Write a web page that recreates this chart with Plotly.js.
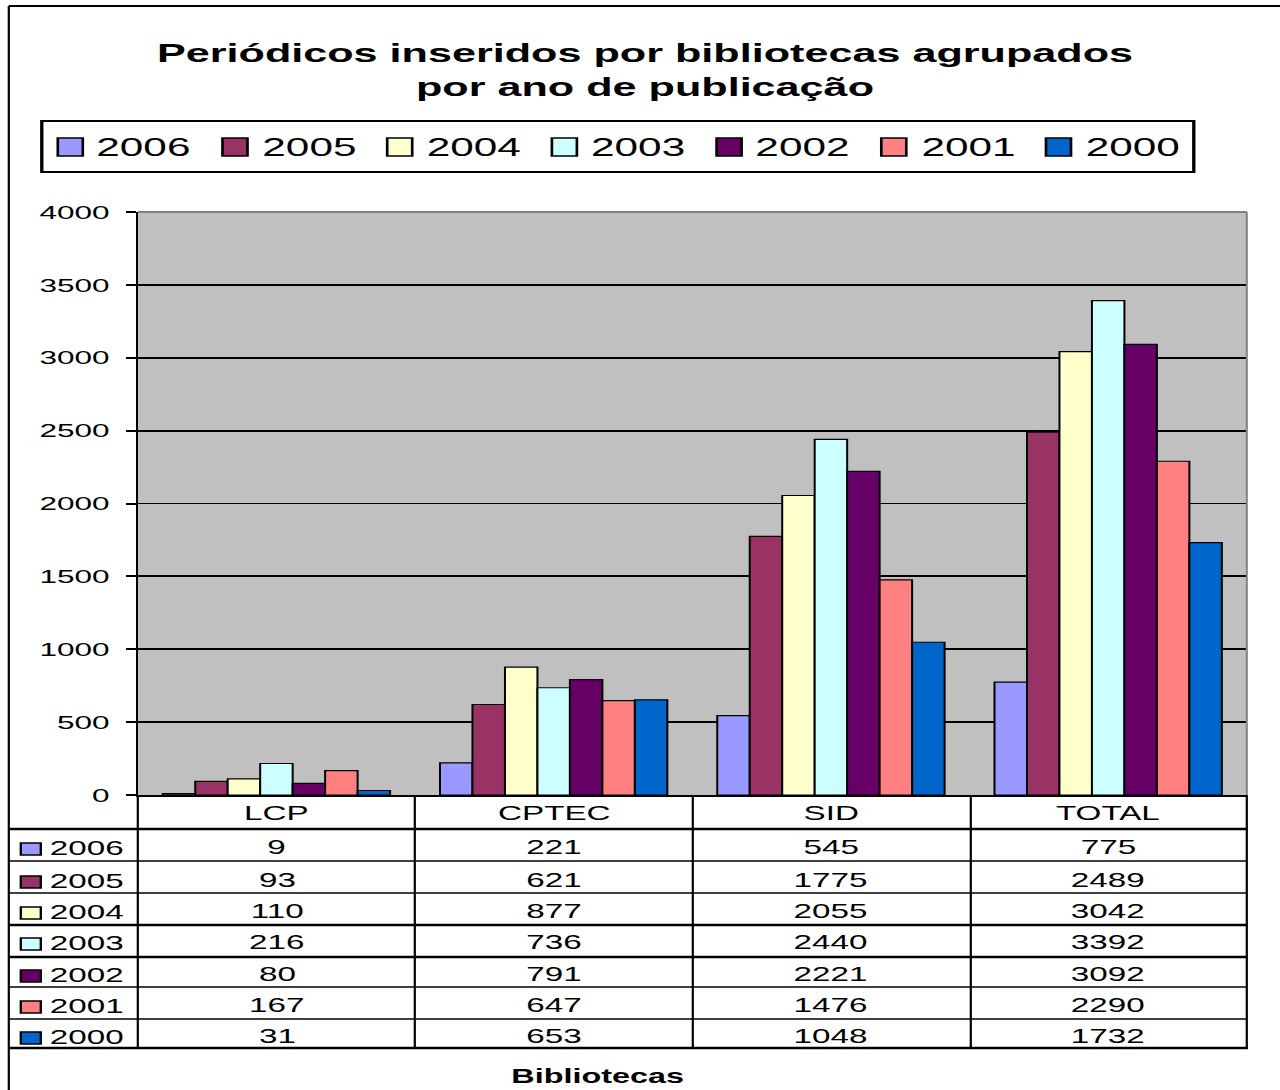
<!DOCTYPE html>
<html>
<head>
<meta charset="utf-8">
<script src="https://cdn.plot.ly/plotly-3.0.1.min.js"></script>
<style>
  html, body { margin: 0; padding: 0; background: #fff; overflow: hidden; }
  #chart { width: 771px; height: 1090px; transform-origin: 0 0; }
</style>
</head>
<body>
<div id="chart"></div>
<script>
// ---- data ----
const categories = ['LCP', 'CPTEC', 'SID', 'TOTAL'];
const seriesNames = ['2006', '2005', '2004', '2003', '2002', '2001', '2000'];
const v2006 = [9, 221, 545, 775];
const v2005 = [93, 621, 1775, 2489];
const v2004 = [110, 877, 2055, 3042];
const v2003 = [216, 736, 2440, 3392];
const v2002 = [80, 791, 2221, 3092];
const v2001 = [167, 647, 1476, 2290];
const v2000 = [31, 653, 1048, 1732];
const seriesValues = [v2006, v2005, v2004, v2003, v2002, v2001, v2000];
const seriesColors = ['#9999FF', '#993366', '#FFFFCC', '#CCFFFF', '#660066', '#FF8080', '#0066CC'];
const yTicks = [0, 500, 1000, 1500, 2000, 2500, 3000, 3500, 4000];
const titleText = 'Periódicos inseridos por bibliotecas agrupados<br>por ano de publicação';
const xTitle = 'Bibliotecas';

// ---- geometry (the original picture is stretched horizontally) ----
const W = 771, H = 1090;
const S = 1280 / W;
document.getElementById('chart').style.transform = 'scaleX(' + S + ')';
const L = 137 / S, R = 1246 / S, T = 212, B = 795;
const PW = R - L, PH = B - T;
const px = X => (X / S - L) / PW;
const py = Y => (B - Y) / PH;
const FONT = 'Liberation Sans, Arial, Helvetica, sans-serif';
const vW = w => w / S; // width for vertical lines

const traces = seriesNames.map((name, i) => ({
  type: 'bar',
  name: name,
  x: categories,
  y: seriesValues[i],
  marker: { color: seriesColors[i], line: { color: '#000', width: 1.2 } },
  hoverinfo: 'x+y+name'
}));

const shapes = [];
const annotations = [];

// outer frame
shapes.push({ type: 'line', xref: 'paper', yref: 'paper', x0: px(8), x1: px(8), y0: py(6), y1: py(1092), line: { color: '#000', width: vW(2.2) } });
shapes.push({ type: 'line', xref: 'paper', yref: 'paper', x0: px(8), x1: px(1282), y0: py(6), y1: py(6), line: { color: '#000', width: 2.2 } });

// plot area border (gray top/right)
shapes.push({ type: 'line', xref: 'paper', yref: 'paper', x0: 0, x1: 1, y0: 1, y1: 1, line: { color: '#808080', width: 2 } });
shapes.push({ type: 'line', xref: 'paper', yref: 'paper', x0: 1, x1: 1, y0: 0, y1: 1, line: { color: '#808080', width: vW(2) } });

// legend (drawn as a boxed row, as in the original)
shapes.push({ type: 'rect', xref: 'paper', yref: 'paper', x0: px(41), x1: px(1193), y0: py(121), y1: py(172), fillcolor: '#fff', line: { color: '#000', width: 2 } });
seriesNames.forEach((name, i) => {
  const kx = 57 + i * 164.7;
  shapes.push({ type: 'rect', xref: 'paper', yref: 'paper', x0: px(kx), x1: px(kx + 25), y0: py(138), y1: py(156), fillcolor: seriesColors[i], line: { color: '#000', width: 1.6 } });
  annotations.push({ xref: 'paper', yref: 'paper', x: px(kx + 36), y: py(147), xanchor: 'left', yanchor: 'middle', text: name, showarrow: false, font: { family: FONT, size: 25.5, color: '#000' } });
});

// data table
const rowTops = [829, 861, 893, 925, 957, 987, 1019, 1048];
const rowThick = [2.4, 1.6, 1.6, 2.4, 2.4, 1.6, 1.6, 2.4];
const rowCenters = [847, 880, 911, 942, 974, 1005, 1036];
rowTops.forEach((Y, k) => {
  shapes.push({ type: 'line', xref: 'paper', yref: 'paper', x0: px(8), x1: 1 + vW(1) / PW, y0: py(Y), y1: py(Y), line: { color: '#000', width: rowThick[k] } });
});
[137, 414, 692, 970, 1246].forEach(X => {
  shapes.push({ type: 'line', xref: 'paper', yref: 'paper', x0: px(X), x1: px(X), y0: py(795), y1: py(1049), line: { color: '#000', width: vW(2.2) } });
});
categories.forEach(c => {
  annotations.push({ xref: 'x', yref: 'paper', x: c, y: py(813), xanchor: 'center', yanchor: 'middle', text: c, showarrow: false, font: { family: FONT, size: 20, color: '#000' } });
});
seriesNames.forEach((name, i) => {
  const cy = rowCenters[i] + 2;
  shapes.push({ type: 'rect', xref: 'paper', yref: 'paper', x0: px(20), x1: px(40), y0: py(cy - 6), y1: py(cy + 6), fillcolor: seriesColors[i], line: { color: '#000', width: 1.4 } });
  annotations.push({ xref: 'paper', yref: 'paper', x: px(45), y: py(rowCenters[i] + 1), xanchor: 'left', yanchor: 'middle', text: name, showarrow: false, font: { family: FONT, size: 20, color: '#000' } });
  categories.forEach((c, j) => {
    annotations.push({ xref: 'x', yref: 'paper', x: c, y: py(rowCenters[i]), xanchor: 'center', yanchor: 'middle', text: String(seriesValues[i][j]), showarrow: false, font: { family: FONT, size: 20, color: '#000' } });
  });
});

// axis label
annotations.push({ xref: 'paper', yref: 'paper', x: px(597), y: py(1076), xanchor: 'center', yanchor: 'middle', text: '<b>' + xTitle + '</b>', showarrow: false, font: { family: FONT, size: 19.5, color: '#000' } });

const layout = {
  width: W, height: H,
  margin: { l: L, r: W - R, t: T, b: H - B, pad: 0 },
  paper_bgcolor: '#fff',
  plot_bgcolor: '#C0C0C0',
  font: { family: FONT, color: '#000' },
  title: {
    text: '<b>' + titleText + '</b>',
    xref: 'container', yref: 'container',
    x: (645 / S) / W, xanchor: 'center',
    y: 1 - 62 / H, yanchor: 'top',
    font: { family: FONT, size: 26, color: '#000' }
  },
  barmode: 'group',
  bargap: 0.18,
  bargroupgap: 0,
  showlegend: false,
  xaxis: {
    type: 'category',
    categoryorder: 'array', categoryarray: categories,
    showgrid: false, zeroline: false,
    showline: true, linecolor: '#000', linewidth: 2,
    ticks: '', showticklabels: false,
    fixedrange: true
  },
  yaxis: {
    range: [0, 4000],
    tickmode: 'array', tickvals: yTicks, ticktext: yTicks.map(String),
    showgrid: true, gridcolor: '#000', gridwidth: 1.8,
    zeroline: false,
    showline: true, linecolor: '#000', linewidth: vW(2),
    ticks: 'outside', ticklen: vW(10), tickwidth: 2, tickcolor: '#000',
    ticklabelstandoff: 6,
    tickfont: { family: FONT, size: 19, color: '#000' },
    fixedrange: true
  },
  shapes: shapes,
  annotations: annotations
};

Plotly.newPlot('chart', traces, layout, { displayModeBar: false, staticPlot: true });
</script>
</body>
</html>
